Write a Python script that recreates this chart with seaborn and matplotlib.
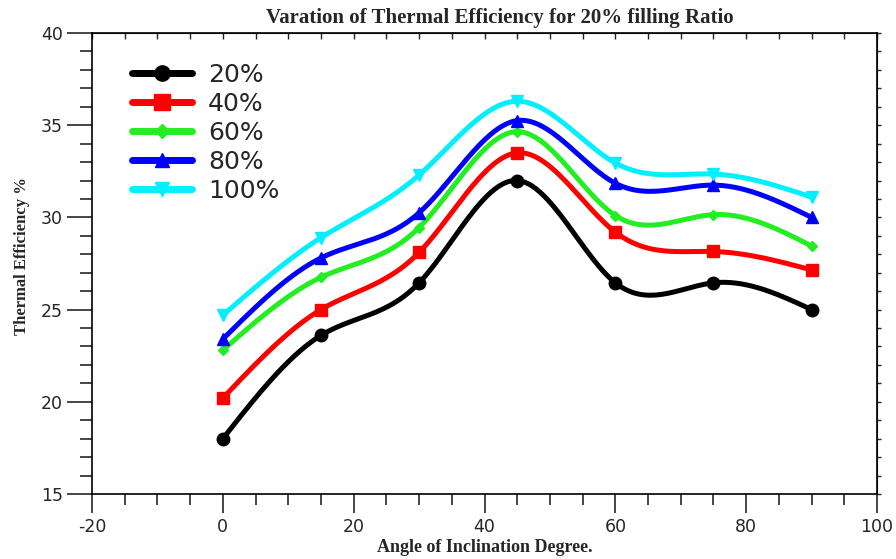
import numpy as np
import pandas as pd
import matplotlib
matplotlib.use("Agg")
import matplotlib.pyplot as plt
from matplotlib.lines import Line2D
from matplotlib.ticker import MultipleLocator
import seaborn as sns

angles = [0, 15, 30, 45, 60, 75, 90]
eff_20 = [18.0, 23.6, 26.45, 32.0, 26.45, 26.45, 25.0]
eff_40 = [20.2, 25.0, 28.1, 33.5, 29.2, 28.15, 27.15]
eff_60 = [22.8, 26.75, 29.45, 34.65, 30.1, 30.15, 28.45]
eff_80 = [23.4, 27.8, 30.25, 35.25, 31.85, 31.75, 30.0]
eff_100 = [24.7, 28.9, 32.3, 36.3, 32.95, 32.35, 31.1]
ratios = ["20%", "40%", "60%", "80%", "100%"]
series = [eff_20, eff_40, eff_60, eff_80, eff_100]
colors = ["#000000", "#ff0000", "#22ee22", "#0000ff", "#00f0ff"]
markers = ["o", "s", "D", "^", "v"]
msizes = [9, 9, 5, 8, 8]

title = "Varation of Thermal Efficiency for 20% filling Ratio"
xlabel = "Angle of Inclination Degree."
ylabel = "Thermal Efficiency %"


def natural_spline(x, y, xs):
    x = np.asarray(x, float); y = np.asarray(y, float)
    n = len(x)
    h = np.diff(x)
    A = np.zeros((n, n)); b = np.zeros(n)
    A[0, 0] = 1; A[-1, -1] = 1
    for i in range(1, n - 1):
        A[i, i - 1] = h[i - 1]
        A[i, i] = 2 * (h[i - 1] + h[i])
        A[i, i + 1] = h[i]
        b[i] = 3 * ((y[i + 1] - y[i]) / h[i] - (y[i] - y[i - 1]) / h[i - 1])
    c = np.linalg.solve(A, b)
    out = np.empty_like(xs)
    for k, xv in enumerate(xs):
        i = min(max(np.searchsorted(x, xv) - 1, 0), n - 2)
        dx = xv - x[i]
        bi = (y[i + 1] - y[i]) / h[i] - h[i] * (2 * c[i] + c[i + 1]) / 3
        di = (c[i + 1] - c[i]) / (3 * h[i])
        out[k] = y[i] + bi * dx + c[i] * dx ** 2 + di * dx ** 3
    return out


pts = pd.DataFrame({
    "angle": np.tile(angles, len(ratios)),
    "eff": np.concatenate(series),
    "ratio": np.repeat(ratios, len(angles)),
})
xs = np.linspace(angles[0], angles[-1], 300)
smooth = pd.concat([
    pd.DataFrame({"angle": xs, "eff": natural_spline(angles, s, xs), "ratio": r})
    for r, s in zip(ratios, series)
])

sns.set_style("ticks")
plt.rcParams["font.family"] = ["DejaVu Sans"]
plt.rcParams["axes.unicode_minus"] = False
fig = plt.figure(figsize=(8.96, 5.59), dpi=100)
ax = fig.add_axes([0.1027, 0.1163, 0.8761, 0.8247])
pal = dict(zip(ratios, colors))
sns.lineplot(data=smooth, x="angle", y="eff", hue="ratio", palette=pal,
             linewidth=3.6, legend=False, ax=ax, sort=False)
for r, c, m, ms in zip(ratios, colors, markers, msizes):
    sub = pts[pts.ratio == r]
    ax.plot(sub.angle, sub.eff, linestyle="none", marker=m, color=c,
            markersize=ms, zorder=5)

ax.set_xlim(-20, 100)
ax.set_ylim(15, 40)
ax.xaxis.set_major_locator(MultipleLocator(20))
ax.xaxis.set_minor_locator(MultipleLocator(5))
ax.yaxis.set_major_locator(MultipleLocator(5))
ax.yaxis.set_minor_locator(MultipleLocator(1))
ax.tick_params(axis="x", which="major", direction="out", length=14, width=1.2,
               labelsize=12.5, pad=3)
ax.tick_params(axis="x", which="minor", direction="out", length=8, width=1.2)
ax.tick_params(axis="y", which="major", direction="out", length=18, width=1.2,
               labelsize=12.5, pad=3)
ax.tick_params(axis="y", which="minor", direction="out", length=9, width=1.2)
for s in ax.spines.values():
    s.set_linewidth(1.2)
    s.set_color("black")

top = ax.secondary_xaxis("top")
top.xaxis.set_major_locator(MultipleLocator(5))
top.tick_params(direction="in", length=4, width=1, labeltop=False)
right = ax.secondary_yaxis("right")
right.yaxis.set_major_locator(MultipleLocator(1))
right.tick_params(direction="out", length=3, width=1, labelright=False)

ax.set_xlabel(xlabel, fontfamily="Liberation Serif", fontweight="bold",
              fontsize=13)
ax.set_ylabel(ylabel, fontfamily="Liberation Serif", fontweight="bold",
              fontsize=12)
ax.yaxis.set_label_coords(-0.079, 0.516)
ax.xaxis.set_label_coords(0.5, -0.098)
fig.text(0.558, 0.968, title, ha="center", va="center",
         fontfamily="Liberation Serif", fontweight="bold", fontsize=15)

handles = [Line2D([], [], color=c, marker=m, markersize=ms + 2, linewidth=5)
           for c, m, ms in zip(colors, markers, msizes)]
ax.legend(handles, ratios, loc="upper left", bbox_to_anchor=(0.038, 0.957),
          frameon=False, fontsize=18, handlelength=2.4, handletextpad=0.64,
          labelspacing=0.2, borderaxespad=0)

fig.savefig("out.png", dpi=100)
